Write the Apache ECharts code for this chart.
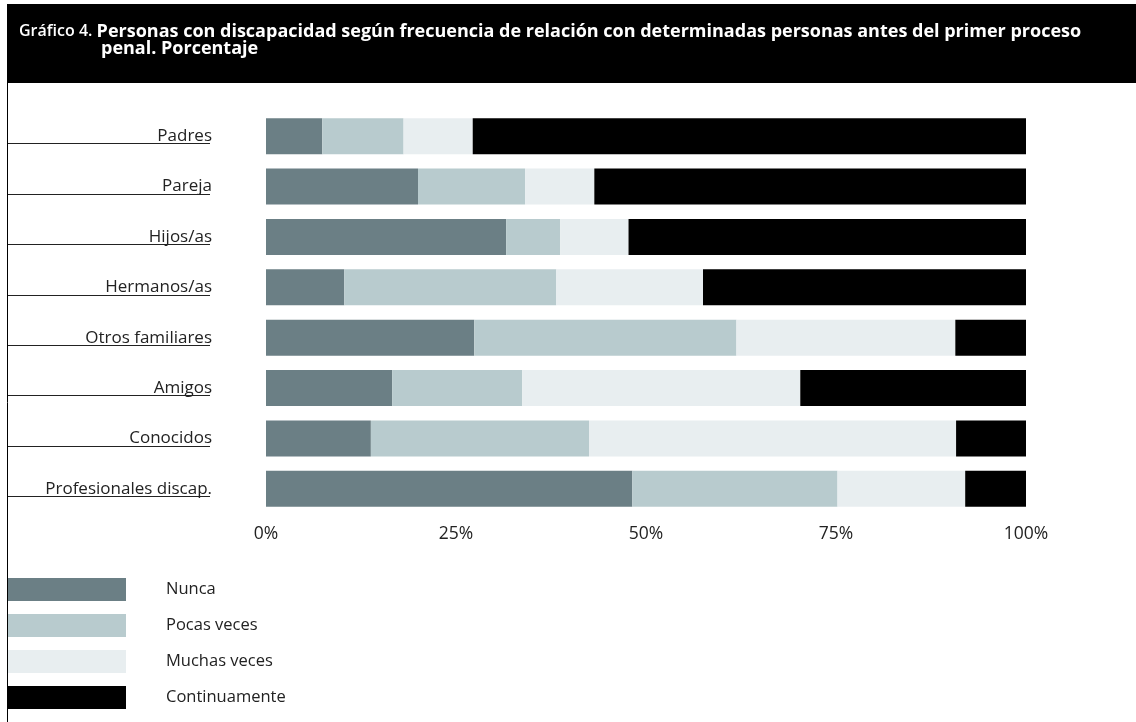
<!DOCTYPE html>
<html>
<head>
<meta charset="utf-8">
<script src="https://cdn.jsdelivr.net/npm/echarts@6/dist/echarts.min.js"></script>
<style>
    html, body {margin: 0; padding: 0; background: #fff;}
    #chart {width: 1136px; height: 722px;}
</style>
</head>
<body>
<div id="chart"></div>
<script>
const categories = ['Padres', 'Pareja', 'Hijos/as', 'Hermanos/as', 'Otros familiares', 'Amigos', 'Conocidos', 'Profesionales discap.'];
const nunca = [7.4, 20.0, 31.6, 10.3, 27.4, 16.6, 13.8, 48.2];
const pocasVeces = [10.7, 14.1, 7.1, 27.9, 34.5, 17.1, 28.7, 27.0];
const muchasVeces = [9.1, 9.1, 9.0, 19.3, 28.8, 36.6, 48.3, 16.8];
const continuamente = [72.8, 56.8, 52.3, 42.5, 9.3, 29.7, 9.2, 8.0];
const seriesNames = ['Nunca', 'Pocas veces', 'Muchas veces', 'Continuamente'];
const colors = ['#6b7f85', '#b8cbce', '#e8eef0', '#000000'];

const FONT = '"Open Sans"';

const chart = echarts.init(document.getElementById('chart'));

const makeSeries = (name, data, i) => ({
    name: name,
    type: 'bar',
    stack: 'total',
    xAxisIndex: 0,
    yAxisIndex: 0,
    barWidth: 36,
    data: data,
    itemStyle: {color: colors[i]},
    emphasis: {disabled: true},
    silent: true,
});

const option = {
    animation: false,
    textStyle: {fontFamily: FONT},
    title: {
        left: 19,
        top: 23,
        padding: 0,
        text: '{a|Gráfico 4. }{b|Personas con discapacidad según frecuencia de relación con determinadas personas antes del primer proceso}\n{i|}{b|penal. Porcentaje}',
        textStyle: {
            rich: {
                a: {fontFamily: FONT, fontSize: 16, fontWeight: 600, color: '#fff', lineHeight: 17},
                b: {fontFamily: FONT, fontSize: 18, fontWeight: 'bold', color: '#fff', lineHeight: 17},
                i: {width: 82, lineHeight: 17},
            },
        },
    },
    graphic: [
        {type: 'rect', shape: {x: 7, y: 4, width: 1129, height: 79}, style: {fill: '#000'}, z: -10},
        {type: 'line', shape: {x1: 7.5, y1: 83, x2: 7.5, y2: 722}, style: {stroke: '#000', lineWidth: 1}},
    ],
    legend: {
        orient: 'vertical',
        left: 8,
        top: 578,
        padding: 0,
        itemWidth: 118,
        itemHeight: 23,
        itemGap: 13,
        icon: 'rect',
        data: seriesNames,
        selectedMode: false,
        textStyle: {fontFamily: FONT, fontSize: 16.5, color: '#222', padding: [2, 0, 0, 35]},
    },
    grid: [
        {left: 266, top: 111, width: 760, height: 403},
        {left: 8, top: 118.5, width: 202, height: 403},
    ],
    xAxis: [
        {
            gridIndex: 0,
            type: 'value',
            min: 0,
            max: 100,
            interval: 25,
            axisLine: {show: false},
            axisTick: {show: false},
            splitLine: {show: false},
            axisLabel: {formatter: '{value}%', fontFamily: FONT, fontSize: 17.5, color: '#222', margin: 11},
        },
        {gridIndex: 1, type: 'value', show: false, min: 0, max: 1},
    ],
    yAxis: [
        {
            gridIndex: 0,
            type: 'category',
            inverse: true,
            data: categories,
            axisLine: {show: false},
            axisTick: {show: false},
            axisLabel: {fontFamily: FONT, fontSize: 17, color: '#222', margin: 54, padding: [0, 0, 14, 0]},
        },
        {
            // underline rules beneath the category names
            gridIndex: 1,
            type: 'category',
            inverse: true,
            position: 'left',
            data: categories,
            axisLine: {show: false},
            axisLabel: {show: false},
            axisTick: {show: true, alignWithLabel: true, inside: true, length: 202, lineStyle: {color: '#222', width: 1}},
        },
    ],
    series: [
        makeSeries(seriesNames[0], nunca, 0),
        makeSeries(seriesNames[1], pocasVeces, 1),
        makeSeries(seriesNames[2], muchasVeces, 2),
        makeSeries(seriesNames[3], continuamente, 3),
    ],
};

chart.setOption(option);
</script>
</body>
</html>
